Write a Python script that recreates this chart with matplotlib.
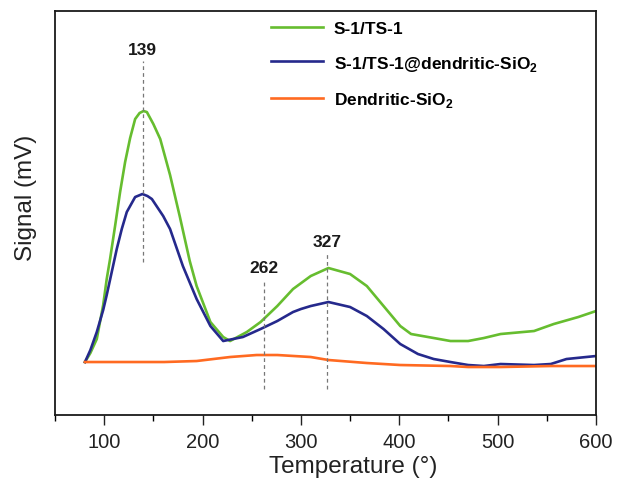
import numpy as np
import matplotlib
matplotlib.use('Agg')
from matplotlib import pyplot as plt
from matplotlib.ticker import MultipleLocator

plt.rcParams['font.family'] = 'Liberation Sans'
plt.rcParams['mathtext.fontset'] = 'custom'
plt.rcParams['mathtext.rm'] = 'Liberation Sans'
plt.rcParams['mathtext.bf'] = 'Liberation Sans:bold'

# TPD signal (arbitrary units)
temp_ts1 = [80.5, 86, 92.5, 99, 102.6, 106, 111.1, 116.2, 121.3, 126.4, 131.5,
            136, 140, 143.4, 150, 157, 167, 177, 187, 194, 208, 221, 228, 245,
            259, 276, 292, 310, 328, 350, 367, 384, 401, 412, 435, 452, 470, 486,
            503, 537, 557, 582, 600]
sig_ts1 = [5.3, 6.2, 7.6, 11.0, 13.6, 15.6, 18.9, 22.3, 25.3, 27.7, 29.6,
           30.2, 30.4, 30.3, 29.1, 27.6, 24.0, 19.8, 15.4, 12.9, 9.3, 7.8, 7.4, 8.3,
           9.3, 10.9, 12.6, 13.9, 14.7, 14.1, 12.9, 10.9, 8.9, 8.1, 7.7, 7.4, 7.4, 7.7,
           8.1, 8.4, 9.1, 9.8, 10.4]

temp_dsio = [80.5, 86, 92.5, 99, 102.6, 107.7, 112.8, 117.9, 123, 131.5, 138.9,
             144, 148.5, 160, 167, 180, 194, 208, 221, 241, 259, 276, 292, 300, 310,
             328, 350, 367, 384, 401, 419, 435, 452, 470, 486, 503, 537, 554, 570, 600]
sig_dsio = [5.3, 6.5, 8.3, 10.5, 12.0, 14.3, 16.6, 18.6, 20.3, 21.8, 22.1,
            21.9, 21.6, 19.9, 18.6, 14.9, 11.6, 8.9, 7.4, 7.8, 8.6, 9.4, 10.3, 10.6, 10.9,
            11.3, 10.8, 9.9, 8.6, 7.1, 6.1, 5.6, 5.3, 5.0, 4.9, 5.1, 5.0, 5.1, 5.6, 5.9]

temp_sio = [80.5, 127, 161, 194, 228, 255, 276, 310, 328, 367, 401, 452, 470,
            503, 554, 600]
sig_sio = [5.3, 5.3, 5.3, 5.4, 5.8, 6.0, 6.0, 5.8, 5.5, 5.2, 5.0, 4.9, 4.8,
           4.8, 4.9, 4.9]

labels = ['S-1/TS-1', r'S-1/TS-1@dendritic-SiO$_\mathbf{2}$', r'Dendritic-SiO$_\mathbf{2}$']
colors = ['#66bd2f', '#25298c', '#ff6a21']

# peak markers: position, line extent, label height
peaks = [139, 262, 327]
peak_lines = [(15.3, 35.4), (2.6, 13.4), (2.6, 16.1)]
peak_text_y = [36.6, 14.8, 17.4]

fig = plt.figure(figsize=(6.17, 4.81), dpi=100)
ax = fig.add_axes([0.0891, 0.1351, 0.8769, 0.8399])

ax.plot(temp_ts1, sig_ts1, color=colors[0], lw=1.9, label=labels[0])
ax.plot(temp_dsio, sig_dsio, color=colors[1], lw=1.9, label=labels[1])
ax.plot(temp_sio, sig_sio, color=colors[2], lw=1.9, label=labels[2])

for p, (y0, y1), ty in zip(peaks, peak_lines, peak_text_y):
    ax.plot([p, p], [y0, y1], color='#777777', lw=0.9, ls=(0, (3, 2.5)))
    ax.text(p, ty, str(p), ha='center', va='center', fontsize=12.5,
            fontweight='bold', color='#1a1a1a')

ax.set_xlim(50, 600)
ax.set_ylim(0, 40.4)
ax.xaxis.set_major_locator(MultipleLocator(100))
ax.xaxis.set_minor_locator(MultipleLocator(50))
ax.tick_params(axis='x', which='major', direction='out', length=7, width=1,
               labelsize=14.5, pad=5, colors='#222222')
ax.tick_params(axis='x', which='minor', direction='out', length=4, width=1)
ax.set_yticks([])
for s in ax.spines.values():
    s.set_linewidth(1.3)
    s.set_color('#1a1a1a')

ax.set_xlabel('Temperature (°)', fontsize=17.5, color='#222222')
ax.xaxis.set_label_coords(0.551, -0.1)
ax.set_ylabel('Signal (mV)', fontsize=17.5, color='#222222')
ax.yaxis.set_label_coords(-0.033, 0.54)

leg = ax.legend(loc='upper left', bbox_to_anchor=(271 / 617, 1 - 22 / 481),
                bbox_transform=fig.transFigure, frameon=False,
                prop={'weight': 'bold', 'size': 12.5}, handlelength=3.0,
                handletextpad=0.6, labelspacing=1.0, borderpad=0, borderaxespad=0)

fig.savefig('out.png', dpi=100)
